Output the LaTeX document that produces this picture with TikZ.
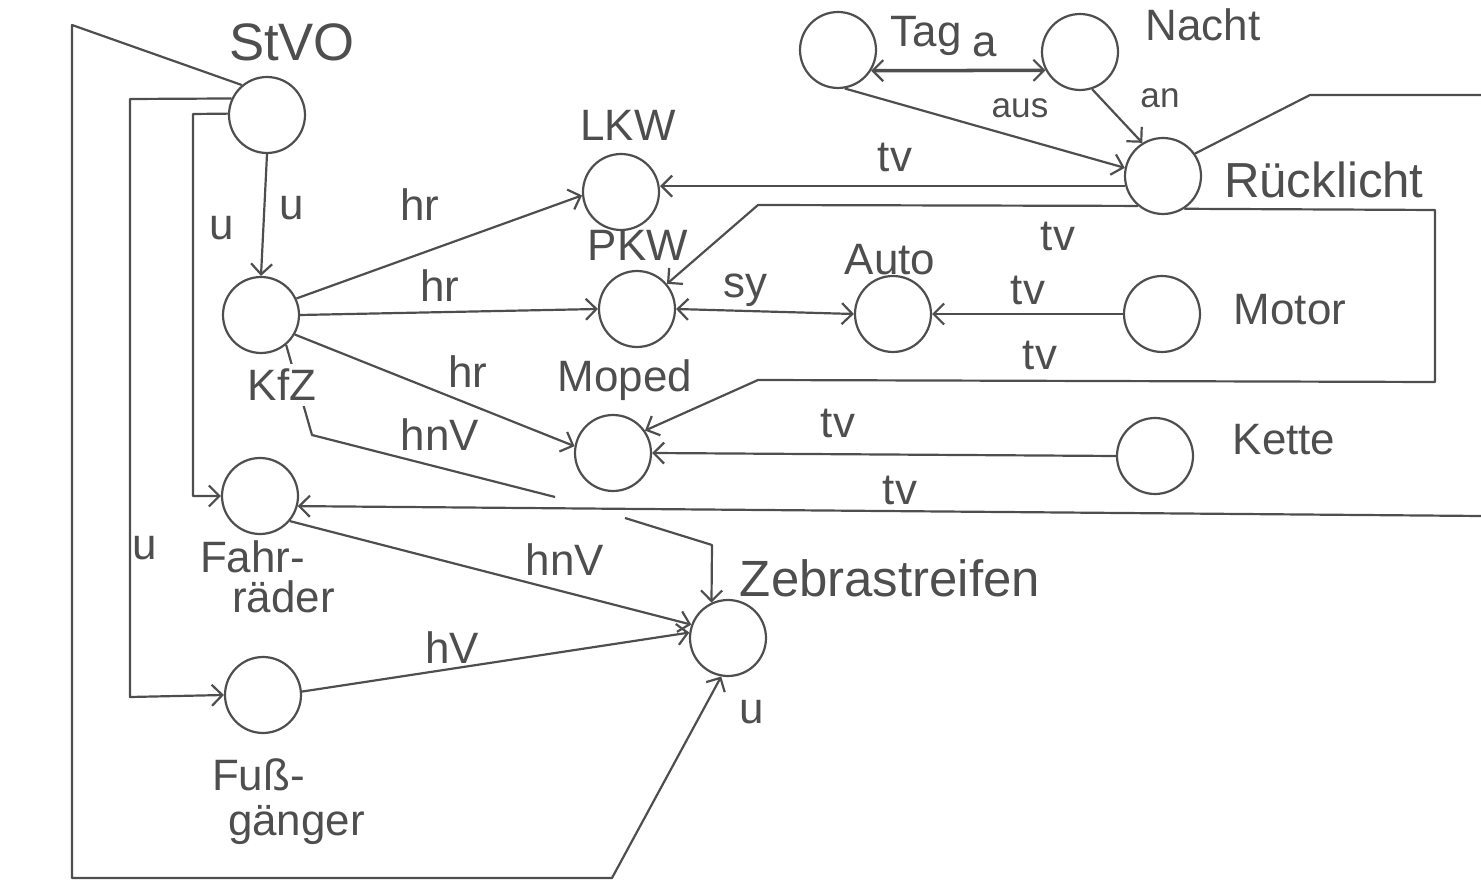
\documentclass[tikz,border=0pt]{standalone}
\usepackage{fontspec}
\setmainfont{Liberation Sans}
\usetikzlibrary{arrows.meta}
\definecolor{ink}{HTML}{4E4E4E}
\tikzset{
  state/.style={circle, draw=ink, line width=1.25pt, minimum size=1.52cm, inner sep=0pt},
  wire/.style={draw=ink, line width=1.25pt, line join=round},
  tip/.tip={Straight Barb[length=6pt, width=12pt, line width=1.25pt]},
  arr/.style={wire, -tip},
  biarr/.style={wire, tip-tip},
  title/.style={text=ink, font=\fontsize{25}{28}\selectfont, inner sep=1pt},
  bigtitle/.style={text=ink, font=\fontsize{30}{34}\selectfont, inner sep=1pt},
  lbl/.style={text=ink, font=\fontsize{25}{28}\selectfont, inner sep=0pt},
  smalllbl/.style={text=ink, font=\fontsize{20}{24}\selectfont, inner sep=0pt},
}
\begin{document}
\begin{tikzpicture}[x=0.02cm, y=-0.02cm]
\useasboundingbox (0,0) rectangle (1481,884);

% states
\node[state] (StVO)  at (267,115) {};
\node[state] (KfZ)   at (261,315) {};
\node[state] (LKW)   at (621,192) {};
\node[state] (PKW)   at (637,309) {};
\node[state] (Auto)  at (893,314) {};
\node[state] (Motor) at (1162,314) {};
\node[state] (Rueck) at (1163,176) {};
\node[state] (Tag)   at (838,50) {};
\node[state] (Nacht) at (1080,52) {};
\node[state] (Moped) at (613,453) {};
\node[state] (Kette) at (1155,456) {};
\node[state] (Fahr)  at (260,496) {};
\node[state] (Zebra) at (728,638) {};
\node[state] (Fuss)  at (263,695) {};

% loose ends of broken / page-leaving lines
\coordinate (hopA) at (555,497);
\coordinate (hopB) at (625,518);
\coordinate (edgeTop) at (1481,95);
\coordinate (edgeLow) at (1481,516);

% StVO and its frames on the left
\draw[arr] (StVO.130) -- (72,25) -- (72,878) -- (612,878) -- (Zebra.-100);
\draw[arr] (StVO.155) -- (130,99) -- (130,697) -- (Fuss.west);
\draw[arr] (StVO.178) -- (193,114) -- (193,496) -- (Fahr.west);
\draw[arr] (StVO.south) -- (KfZ.north);

% KfZ
\draw[arr] (KfZ.25) -- (LKW.185);
\draw[arr] (KfZ.east) -- (PKW.west);
\draw[arr] (KfZ.-30) -- (Moped.170);
\draw[wire] (KfZ.-50) -- (312,435) -- (hopA);
\draw[arr] (hopB) -- (712,545) -- (Zebra.115);

% Fahrräder, Fußgänger
\draw[arr] (Fahr.-40) -- (Zebra.160);
\draw[arr] (Fuss.5) -- (Zebra.172);

% Tag / Nacht / Rücklicht
\draw[biarr, line width=2pt] (Tag.-32) -- (Nacht.208);
\draw[arr] (Tag.-80) -- (Rueck.168);
\draw[arr] (Nacht.-72) -- (Rueck.122);

% Rücklicht outputs
\draw[arr] (Rueck.195) -- (Rueck.195 -| LKW.east);
\draw[arr] (Rueck.230) -- (758,205) -- (PKW.40);
\draw[arr] (Rueck.-57) -- (1435,210) -- (1435,382) -- (758,380) -- (Moped.35);
\draw[wire] (Rueck.35) -- (1310,95) -- (edgeTop);
\draw[arr] (edgeLow) -- (Fahr.-15);

% PKW, Auto, Motor, Kette
\draw[biarr] (PKW.east) -- (Auto.west);
\draw[arr] (Motor.west) -- (Auto.east);
\draw[arr] (Kette.west) -- (Moped.east);

% state names
\node[bigtitle] (tStVO) at (292,42)  {StVO};
\node[title] (tLKW)   at (628,125) {LKW};
\node[title] (tPKW)   at (638,245) {PKW};
\node[title] (tAuto)  at (890,260) {Auto};
\node[title] (tMotor) at (1290,310) {Motor};
\node[title, anchor=west, font=\fontsize{28}{30}\selectfont] (tRueck) at (1222,180) {Rücklicht};
\node[title] (tTag)   at (926,36)  {Tag};
\node[title] (tNacht) at (1203,25) {Nacht};
\node[title] (tMoped) at (625,380) {Moped};
\node[title, fill=white, inner sep=3pt] (tKfZ) at (282,385) {KfZ};
\node[title] (tKette) at (1284,440) {Kette};
\node[title, anchor=west] (tFahrA) at (198,557) {Fahr-};
\node[title, anchor=west] (tFahrB) at (230,597) {räder};
\node[title, font=\fontsize{29}{32}\selectfont] (tZebra) at (890,578) {Zebrastreifen};
\node[title, anchor=west] (tFussA) at (210,775) {Fuß-};
\node[title, anchor=west] (tFussB) at (226,825) {gänger};

% relation labels
\node[lbl]      (lA)    at (985,45)   {a};
\node[smalllbl] (lAus)  at (1020,108) {aus};
\node[smalllbl] (lAn)   at (1160,98)  {an};
\node[lbl]   (lU1)   at (292,208)  {u};
\node[lbl]   (lU2)   at (222,228)  {u};
\node[lbl]   (lU3)   at (145,548)  {u};
\node[lbl]   (lU4)   at (752,712)  {u};
\node[lbl]   (lHr1)  at (420,205)  {hr};
\node[lbl]   (lHr2)  at (440,286)  {hr};
\node[lbl]   (lHr3)  at (468,372)  {hr};
\node[lbl]   (lSy)   at (745,290)  {sy};
\node[lbl]   (lTv1)  at (895,157)  {tv};
\node[lbl]   (lTv2)  at (1058,236) {tv};
\node[lbl]   (lTv3)  at (1028,290) {tv};
\node[lbl]   (lTv4)  at (1040,355) {tv};
\node[lbl]   (lTv5)  at (838,423)  {tv};
\node[lbl]   (lTv6)  at (900,490)  {tv};
\node[lbl]   (lHnV1) at (440,435)  {hnV};
\node[lbl]   (lHnV2) at (565,560)  {hnV};
\node[lbl]   (lHV)   at (452,648)  {hV};
\end{tikzpicture}
\end{document}
